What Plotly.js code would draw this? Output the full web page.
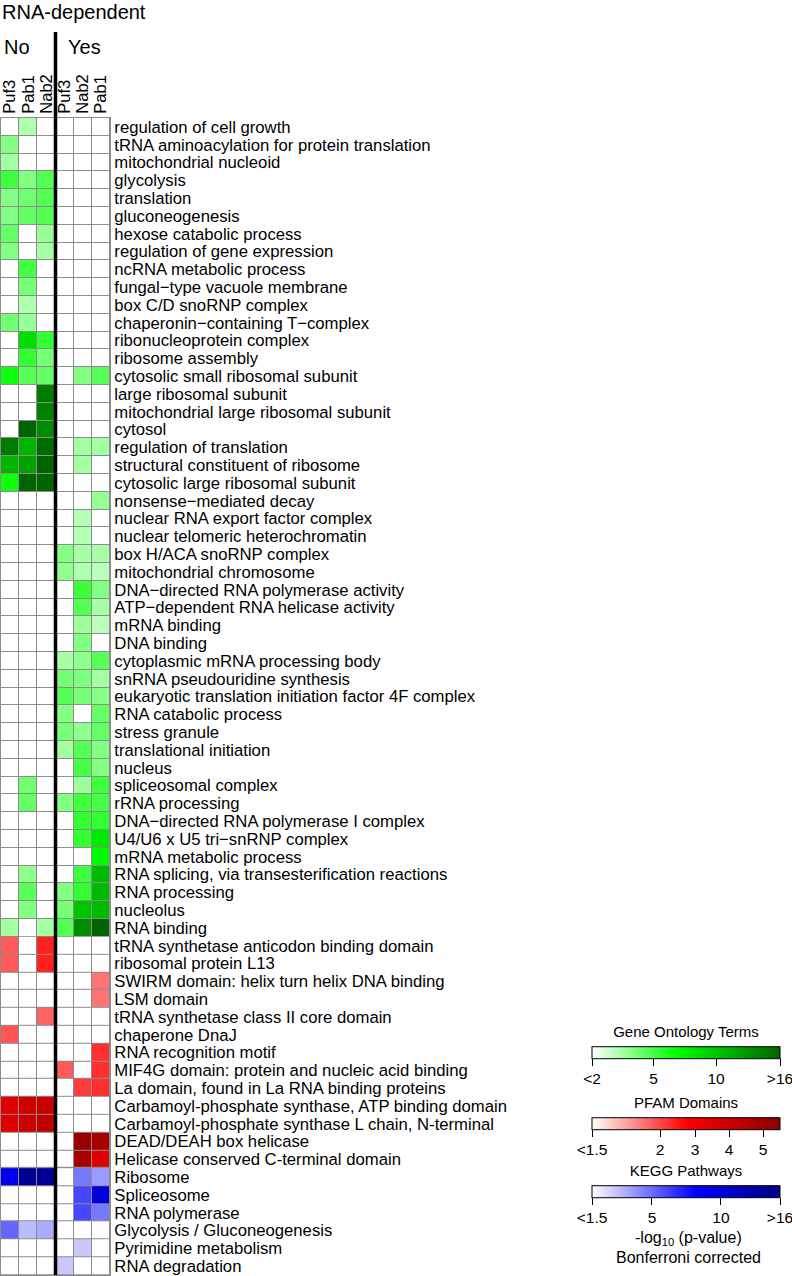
<!DOCTYPE html>
<html><head><meta charset="utf-8">
<script src="https://cdn.plot.ly/plotly-3.0.1.min.js"></script>
<style>html,body{margin:0;padding:0;background:#fff;} #chart{width:792px;height:1276px;}</style>
</head><body><div id="chart"></div>
<script>
// ---------------- DATA ----------------
const columnLabels = ['Puf3','Pab1','Nab2','Puf3','Nab2','Pab1'];
const groupLabels = ['No','Yes'];
const chartTitle = 'RNA-dependent';

// -log10(p-value), Bonferroni corrected; 0 = not significant
// columns: No-Puf3, No-Pab1, No-Nab2, Yes-Puf3, Yes-Nab2, Yes-Pab1
const goTerms = [
 'regulation of cell growth',
 'tRNA aminoacylation for protein translation',
 'mitochondrial nucleoid',
 'glycolysis',
 'translation',
 'gluconeogenesis',
 'hexose catabolic process',
 'regulation of gene expression',
 'ncRNA metabolic process',
 'fungal\u2212type vacuole membrane',
 'box C/D snoRNP complex',
 'chaperonin\u2212containing T\u2212complex',
 'ribonucleoprotein complex',
 'ribosome assembly',
 'cytosolic small ribosomal subunit',
 'large ribosomal subunit',
 'mitochondrial large ribosomal subunit',
 'cytosol',
 'regulation of translation',
 'structural constituent of ribosome',
 'cytosolic large ribosomal subunit',
 'nonsense\u2212mediated decay',
 'nuclear RNA export factor complex',
 'nuclear telomeric heterochromatin',
 'box H/ACA snoRNP complex',
 'mitochondrial chromosome',
 'DNA\u2212directed RNA polymerase activity',
 'ATP\u2212dependent RNA helicase activity',
 'mRNA binding',
 'DNA binding',
 'cytoplasmic mRNA processing body',
 'snRNA pseudouridine synthesis',
 'eukaryotic translation initiation factor 4F complex',
 'RNA catabolic process',
 'stress granule',
 'translational initiation',
 'nucleus',
 'spliceosomal complex',
 'rRNA processing',
 'DNA\u2212directed RNA polymerase I complex',
 'U4/U6 x U5 tri\u2212snRNP complex',
 'mRNA metabolic process',
 'RNA splicing, via transesterification reactions',
 'RNA processing',
 'nucleolus',
 'RNA binding'
];
const goValues = [
 [0, 3.3, 0, 0, 0, 0],
 [4, 0, 0, 0, 0, 0],
 [3.5, 0, 0, 0, 0, 0],
 [5.2, 4, 4.8, 0, 0, 0],
 [4, 4.3, 4.8, 0, 0, 0],
 [4, 4.5, 4.8, 0, 0, 0],
 [4.5, 0, 3.7, 0, 0, 0],
 [4, 0, 3.5, 0, 0, 0],
 [0, 5, 0, 0, 0, 0],
 [0, 4.2, 0, 0, 0, 0],
 [0, 3.3, 0, 0, 0, 0],
 [4.3, 3.7, 0, 0, 0, 0],
 [0, 8.5, 5.5, 0, 0, 0],
 [0, 5.5, 4.2, 0, 0, 0],
 [6.5, 4.7, 4.5, 0, 4, 4.7],
 [0, 0, 14.5, 0, 0, 0],
 [0, 0, 14, 0, 0, 0],
 [0, 16, 13.5, 0, 0, 0],
 [14.5, 11, 15.5, 0, 3.5, 3.5],
 [11, 12, 16, 0, 3.5, 0],
 [6.5, 16, 16, 0, 0, 0],
 [0, 0, 0, 0, 0, 3.7],
 [0, 0, 0, 0, 3.2, 0],
 [0, 0, 0, 0, 3.2, 0],
 [0, 0, 0, 4, 3.4, 3.4],
 [0, 0, 0, 3.8, 3.3, 3.1],
 [0, 0, 0, 0, 5.3, 4],
 [0, 0, 0, 0, 4.8, 3.4],
 [0, 0, 0, 0, 3.6, 3.1],
 [0, 0, 0, 0, 4, 0],
 [0, 0, 0, 3.4, 3.8, 4.7],
 [0, 0, 0, 4.3, 4.1, 3.5],
 [0, 0, 0, 4.7, 4.2, 3.9],
 [0, 0, 0, 4, 0, 4.5],
 [0, 0, 0, 4.2, 3.8, 4.5],
 [0, 0, 0, 3.5, 4.8, 4],
 [0, 0, 0, 0, 5, 4],
 [0, 4.3, 0, 0, 3.6, 5.2],
 [0, 4.5, 0, 4, 5.2, 5],
 [0, 0, 0, 0, 5.5, 5.5],
 [0, 0, 0, 0, 5.5, 8],
 [0, 0, 0, 0, 0, 7],
 [0, 3.8, 0, 0, 5.2, 10.5],
 [0, 4.7, 0, 4, 5.5, 10.5],
 [0, 4, 0, 4.2, 10, 10.5],
 [3.5, 0, 3.5, 4.8, 13.5, 16]
];

const pfamTerms = [
 'tRNA synthetase anticodon binding domain',
 'ribosomal protein L13',
 'SWIRM domain: helix turn helix DNA binding',
 'LSM domain',
 'tRNA synthetase class II core domain',
 'chaperone DnaJ',
 'RNA recognition motif',
 'MIF4G domain: protein and nucleic acid binding',
 'La domain, found in La RNA binding proteins',
 'Carbamoyl-phosphate synthase, ATP binding domain',
 'Carbamoyl-phosphate synthase L chain, N-terminal',
 'DEAD/DEAH box helicase',
 'Helicase conserved C-terminal domain'
];
const pfamValues = [
 [1.95, 0, 2.4, 0, 0, 0],
 [1.95, 0, 2.4, 0, 0, 0],
 [0, 0, 0, 0, 0, 1.88],
 [0, 0, 0, 0, 0, 1.88],
 [0, 0, 1.92, 0, 0, 0],
 [1.96, 0, 0, 0, 0, 0],
 [0, 0, 0, 0, 0, 2.25],
 [0, 0, 0, 1.95, 0, 2.25],
 [0, 0, 0, 0, 2.1, 2.25],
 [3.5, 3.9, 4.0, 0, 0, 0],
 [3.5, 3.9, 4.2, 0, 0, 0],
 [0, 0, 0, 0, 5.2, 4.8],
 [0, 0, 0, 0, 4.8, 3.5]
];

const keggTerms = [
 'Ribosome',
 'Spliceosome',
 'RNA polymerase',
 'Glycolysis / Gluconeogenesis',
 'Pyrimidine metabolism',
 'RNA degradation'
];
const keggValues = [
 [9, 14.8, 14.5, 0, 4.7, 3.9],
 [0, 0, 0, 0, 6.1, 9.8],
 [0, 0, 0, 0, 6.1, 4.7],
 [5.2, 3.1, 3.5, 0, 0, 0],
 [0, 0, 0, 0, 2.8, 0],
 [0, 0, 0, 2.8, 0, 0]
];

const goTickVals = [2, 5, 10, 16];
const goTickText = ['<2', '5', '10', '>16'];
const pfamTickVals = [1.5, 2, 3, 4, 5];
const pfamTickText = ['<1.5', '2', '3', '4', '5'];
const keggTickVals = [1.5, 5, 10, 16];
const keggTickText = ['<1.5', '5', '10', '>16'];

// ---------------- COLOUR SCALES (non-linear legends) ----------------
const goScale   = {vals: [2, 5, 10, 16],        pos: [0, 0.328, 0.66, 1]};
const pfamScale = {vals: [1.5, 2, 3, 4, 5, 5.5], pos: [0, 0.362, 0.548, 0.729, 0.910, 1]};
const keggScale = {vals: [1.5, 5, 10, 16],      pos: [0, 0.319, 0.686, 1]};

function scalePos(v, s) {
  if (v <= s.vals[0]) return 0;
  for (let i = 1; i < s.vals.length; i++) {
    if (v <= s.vals[i]) {
      return s.pos[i-1] + (v - s.vals[i-1]) / (s.vals[i] - s.vals[i-1]) * (s.pos[i] - s.pos[i-1]);
    }
  }
  return 1;
}

// ---------------- LAYOUT CONSTANTS ----------------
const W = 792, H = 1276;
const FONT = 'Liberation Sans, Arial, Helvetica, sans-serif';
const px = x => x / W;
const py = y => 1 - y / H;
const gridLeft = 1, gridRight = 110, gridTop = 118, gridBottom = 1275;
const cbCenterX = 686, cbLen = 188;

const colIdx = columnLabels.map((_, i) => i);
let rowOffset = 0;
function makeHeatmap(terms, values, scale, colorscale, tickVals, tickText, cbTitle, cbY) {
  const off = rowOffset;
  rowOffset += terms.length;
  return {
    type: 'heatmap',
    x: colIdx,
    y: terms.map((_, i) => off + i),
    z: values.map(r => r.map(v => scalePos(v, scale))),
    zmin: 0, zmax: 1,
    colorscale: colorscale,
    xgap: 1, ygap: 1,
    hoverinfo: 'skip',
    showscale: true,
    colorbar: {
      orientation: 'h',
      x: px(cbCenterX), xanchor: 'center',
      y: py(cbY), yanchor: 'middle',
      len: cbLen, lenmode: 'pixels',
      thickness: 12, thicknessmode: 'pixels',
      outlinewidth: 1, outlinecolor: '#000',
      borderwidth: 0, xpad: 0, ypad: 0,
      ticks: 'outside', ticklen: 7, tickwidth: 1, tickcolor: '#000',
      ticklabeloverflow: 'allow',
      tickvals: tickVals.map(v => scalePos(v, scale) * 0.99999),
      ticktext: tickText,
      tickfont: {family: FONT, size: 15.5, color: '#000'},
      title: {text: cbTitle, side: 'top', font: {family: FONT, size: 15, color: '#000'}}
    }
  };
}

const traces = [
  makeHeatmap(goTerms, goValues, goScale,
    [[0, '#ffffff'], [0.45, '#00ff00'], [1, '#006400']],
    goTickVals, goTickText, 'Gene Ontology Terms', 1059),
  makeHeatmap(pfamTerms, pfamValues, pfamScale,
    [[0, '#ffffff'], [0.5, '#ff0000'], [1, '#8b0000']],
    pfamTickVals, pfamTickText, 'PFAM Domains', 1130),
  makeHeatmap(keggTerms, keggValues, keggScale,
    [[0, '#ffffff'], [0.55, '#0000ff'], [1, '#000080']],
    keggTickVals, keggTickText, 'KEGG Pathways', 1198)
];

const allTerms = goTerms.concat(pfamTerms, keggTerms);

const layout = {
  width: W, height: H,
  margin: {l: 0, r: 0, t: 0, b: 0, pad: 0},
  paper_bgcolor: '#ffffff',
  plot_bgcolor: '#8c8c8c',
  font: {family: FONT, color: '#000'},
  showlegend: false,
  xaxis: {
    domain: [px(gridLeft), px(gridRight)],
    range: [-0.5, columnLabels.length - 0.5],
    tickvals: colIdx, ticktext: columnLabels,
    side: 'top', tickangle: -90, ticks: '',
    showgrid: false, zeroline: false,
    showline: true, mirror: true, linecolor: '#8c8c8c', linewidth: 1,
    tickfont: {family: FONT, size: 16.5, color: '#000'},
    fixedrange: true, automargin: false
  },
  yaxis: {
    domain: [py(gridBottom), py(gridTop)],
    range: [allTerms.length - 0.5, -0.5],
    tickvals: allTerms.map((_, i) => i), ticktext: allTerms,
    side: 'right', ticks: '',
    showgrid: false, zeroline: false,
    showline: true, mirror: true, linecolor: '#8c8c8c', linewidth: 1,
    tickfont: {family: FONT, size: 16.7, color: '#000'},
    fixedrange: true, automargin: false
  },
  shapes: [{
    type: 'line', xref: 'x', yref: 'paper',
    x0: 2.5, x1: 2.5, y0: py(gridBottom), y1: py(32),
    line: {color: '#000', width: 3.5}
  }],
  annotations: [
    {text: chartTitle, xref: 'paper', yref: 'paper', x: 0, y: py(12), xanchor: 'left', yanchor: 'middle',
     showarrow: false, font: {family: FONT, size: 20, color: '#000'}},
    {text: groupLabels[0], xref: 'paper', yref: 'paper', x: px(17), y: py(47), xanchor: 'center', yanchor: 'middle',
     showarrow: false, font: {family: FONT, size: 20, color: '#000'}},
    {text: groupLabels[1], xref: 'paper', yref: 'paper', x: px(84), y: py(47), xanchor: 'center', yanchor: 'middle',
     showarrow: false, font: {family: FONT, size: 20, color: '#000'}},
    {text: '-log<sub>10</sub> (p-value)', xref: 'paper', yref: 'paper', x: px(cbCenterX + 2), y: py(1238), xanchor: 'center', yanchor: 'middle',
     showarrow: false, font: {family: FONT, size: 16, color: '#000'}},
    {text: 'Bonferroni corrected', xref: 'paper', yref: 'paper', x: px(cbCenterX + 2), y: py(1257), xanchor: 'center', yanchor: 'middle',
     showarrow: false, font: {family: FONT, size: 16, color: '#000'}}
  ]
};

Plotly.newPlot('chart', traces, layout, {staticPlot: true, displayModeBar: false});
</script>
</body></html>
